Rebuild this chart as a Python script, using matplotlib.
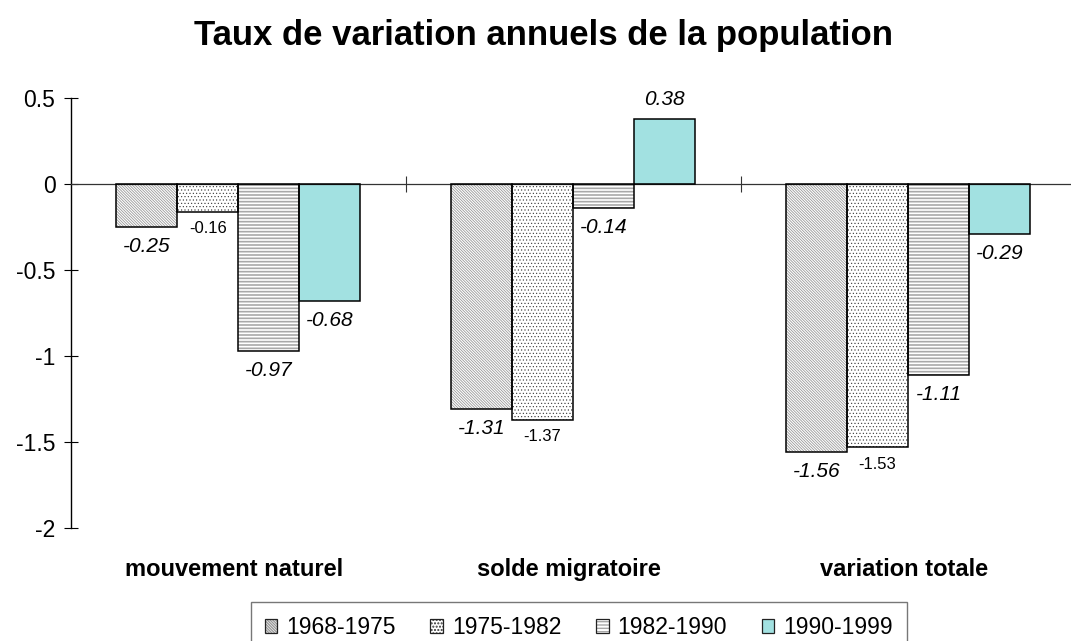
import numpy as np
import matplotlib
matplotlib.use("Agg")
import matplotlib.pyplot as plt
from matplotlib.transforms import blended_transform_factory

plt.rcParams['font.family'] = ['Liberation Sans', 'DejaVu Sans']

# data
categories = ['mouvement naturel', 'solde migratoire', 'variation totale']
periods = ['1968-1975', '1975-1982', '1982-1990', '1990-1999']
v_6875 = [-0.25, -1.31, -1.56]
v_7582 = [-0.16, -1.37, -1.53]
v_8290 = [-0.97, -0.14, -1.11]
v_9099 = [-0.68, 0.38, -0.29]
series = [v_6875, v_7582, v_8290, v_9099]

# styles per series: (face, hatch, hatch colour, hatch lw)
styles = [
    ('white', '\\' * 12, '#9a9a9a', 0.6),
    ('white', '.....', '#333333', 0.4),
    ('white', '-----', '#a8a8a8', 1.2),
    ('#a2e1e1', None, 'black', 1.0),
]
label_italic = [True, False, True, True]
label_size = [15, 12, 15, 15]

fig = plt.figure(figsize=(10.71, 6.41), dpi=100)
ax = fig.add_axes([70.7 / 1071, 1 - 528 / 641, 1004.8 / 1071, 430 / 641])

x = np.arange(len(categories)) + 0.5
w = 0.182
handles = []
for i, vals in enumerate(series):
    pos = x + (i - 1.5) * w
    face, hatch, hcol, hlw = styles[i]
    with plt.rc_context({'hatch.linewidth': hlw}):
        ax.bar(pos, vals, w, color=face, hatch=hatch, edgecolor=hcol,
               linewidth=0, zorder=2)
        h_fill = plt.Rectangle((0, 0), 1, 1, facecolor=face, hatch=hatch,
                               edgecolor=hcol, linewidth=0)
    bars = ax.bar(pos, vals, w, fill=False, edgecolor='black', linewidth=1.1,
                  zorder=3)
    h_edge = plt.Rectangle((0, 0), 1, 1, fill=False, edgecolor='#222222',
                           linewidth=0.9)
    handles.append((h_fill, h_edge))
    for b, v in zip(bars, vals):
        off = -7 if v < 0 else 7
        ax.annotate(f'{v:.2f}', (b.get_x() + b.get_width() / 2, v),
                    xytext=(0, off), textcoords='offset points',
                    ha='center', va='top' if v < 0 else 'bottom',
                    fontsize=label_size[i],
                    style='italic' if label_italic[i] else 'normal')

ax.set_xlim(0, 3)
ax.set_ylim(-2, 0.5)
ax.set_yticks([0.5, 0, -0.5, -1, -1.5, -2])
ax.set_yticklabels(['0.5', '0', '-0.5', '-1', '-1.5', '-2'])
ax.tick_params(axis='y', direction='inout', length=10, width=0.8,
               labelsize=16.5, pad=6)
ax.spines['top'].set_visible(False)
ax.spines['right'].set_visible(False)
ax.spines['left'].set_linewidth(1.0)
ax.spines['bottom'].set_position(('data', 0))
ax.spines['bottom'].set_linewidth(0.9)
ax.spines['bottom'].set_color('#333333')
ax.set_xticks([1, 2])
ax.set_xticklabels(['', ''])
ax.tick_params(axis='x', direction='inout', length=12, width=0.8,
               color='#333333')

trans = blended_transform_factory(ax.transData, fig.transFigure)
for xc, name in zip(x, categories):
    ax.text(xc - 0.012, 1 - 576 / 641, name, transform=trans, ha='center',
            va='baseline', fontsize=17, fontweight='bold')

fig.text(544 / 1071, 1 - 45 / 641, 'Taux de variation annuels de la population',
         ha='center', va='baseline', fontsize=25, fontweight='bold')

leg = fig.legend(handles, periods, loc='upper left',
                 bbox_to_anchor=(251 / 1071, 1 - 602 / 641), ncol=4,
                 fontsize=16.5, frameon=True, fancybox=False, borderaxespad=0,
                 handlelength=0.55, handleheight=0.55, handletextpad=0.4,
                 columnspacing=1.5, borderpad=0.6)
leg.get_frame().set_edgecolor('#555555')
leg.get_frame().set_linewidth(1.0)

fig.savefig('out.png', dpi=100)
